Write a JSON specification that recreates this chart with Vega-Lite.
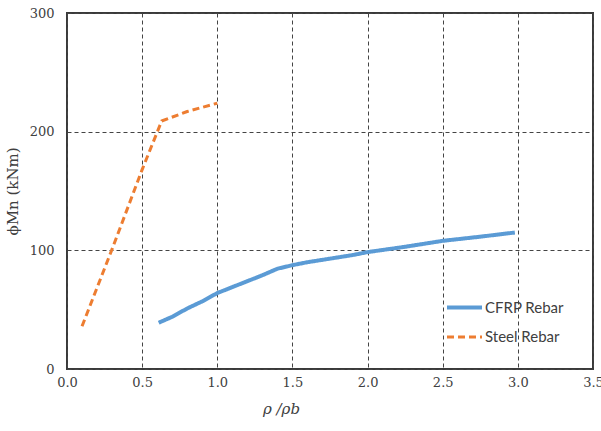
{
  "$schema": "https://vega.github.io/schema/vega-lite/v6.json",
  "width": 526,
  "height": 356,
  "autosize": {"type": "none"},
  "padding": {"left": 67, "top": 13, "right": 8, "bottom": 62},
  "background": "white",
  "config": {
    "view": {"stroke": "#3a3a3a", "strokeWidth": 2},
    "axis": {
      "grid": true,
      "gridColor": "#444444",
      "gridDash": [4, 3],
      "gridWidth": 1,
      "domain": false,
      "ticks": false,
      "labelFlush": false,
      "labelFont": "DejaVu Serif",
      "labelFontSize": 13,
      "labelColor": "#404040",
      "titleFont": "DejaVu Serif",
      "titleFontSize": 15,
      "titleFontWeight": "normal",
      "titleColor": "#404040"
    }
  },
  "data": {
    "values": [
      {"rho": 0.61, "mn": 39, "series": "CFRP Rebar"},
      {"rho": 0.7, "mn": 44, "series": "CFRP Rebar"},
      {"rho": 0.8, "mn": 51, "series": "CFRP Rebar"},
      {"rho": 0.9, "mn": 57, "series": "CFRP Rebar"},
      {"rho": 1.0, "mn": 64, "series": "CFRP Rebar"},
      {"rho": 1.1, "mn": 69, "series": "CFRP Rebar"},
      {"rho": 1.2, "mn": 74, "series": "CFRP Rebar"},
      {"rho": 1.3, "mn": 79, "series": "CFRP Rebar"},
      {"rho": 1.4, "mn": 84.5, "series": "CFRP Rebar"},
      {"rho": 1.5, "mn": 87.5, "series": "CFRP Rebar"},
      {"rho": 1.6, "mn": 90, "series": "CFRP Rebar"},
      {"rho": 1.75, "mn": 93, "series": "CFRP Rebar"},
      {"rho": 1.9, "mn": 96, "series": "CFRP Rebar"},
      {"rho": 2.0, "mn": 98.5, "series": "CFRP Rebar"},
      {"rho": 2.25, "mn": 103, "series": "CFRP Rebar"},
      {"rho": 2.5, "mn": 108, "series": "CFRP Rebar"},
      {"rho": 2.75, "mn": 111.5, "series": "CFRP Rebar"},
      {"rho": 2.98, "mn": 115, "series": "CFRP Rebar"},
      {"rho": 0.1, "mn": 36, "series": "Steel Rebar"},
      {"rho": 0.3, "mn": 101, "series": "Steel Rebar"},
      {"rho": 0.5, "mn": 168, "series": "Steel Rebar"},
      {"rho": 0.63, "mn": 209, "series": "Steel Rebar"},
      {"rho": 0.8, "mn": 217, "series": "Steel Rebar"},
      {"rho": 1.0, "mn": 224, "series": "Steel Rebar"}
    ]
  },
  "mark": {"type": "line", "strokeCap": "butt", "strokeJoin": "round"},
  "encoding": {
    "x": {
      "field": "rho",
      "type": "quantitative",
      "scale": {"domain": [0, 3.5], "nice": false},
      "axis": {"values": [0, 0.5, 1, 1.5, 2, 2.5, 3, 3.5], "format": ".1f", "labelPadding": 7, "title": "ρ /ρb", "titleX": 214, "titleAlign": "center", "titlePadding": 12, "titleFontStyle": "italic"}
    },
    "y": {
      "field": "mn",
      "type": "quantitative",
      "scale": {"domain": [0, 300], "nice": false},
      "axis": {"values": [0, 100, 200, 300], "labelPadding": 13, "title": "ϕMn (kNm)", "titlePadding": 9}
    },
    "color": {
      "field": "series",
      "type": "nominal",
      "scale": {"domain": ["CFRP Rebar", "Steel Rebar"], "range": ["#5b9bd5", "#ed7d31"]},
      "legend": {
        "title": null,
        "orient": "none",
        "legendX": 378,
        "legendY": 275,
        "symbolType": "stroke",
        "symbolSize": 1225,
        "symbolStrokeWidth": 3,
        "rowPadding": 2,
        "labelFont": "Lato",
        "labelFontSize": 15,
        "labelColor": "#404040",
        "labelOffset": 1
      }
    },
    "strokeDash": {
      "field": "series",
      "type": "nominal",
      "scale": {"domain": ["CFRP Rebar", "Steel Rebar"], "range": [[1, 0], [7, 4]]},
      "legend": null
    },
    "strokeWidth": {
      "field": "series",
      "type": "nominal",
      "scale": {"domain": ["CFRP Rebar", "Steel Rebar"], "range": [4, 3]},
      "legend": null
    }
  }
}
